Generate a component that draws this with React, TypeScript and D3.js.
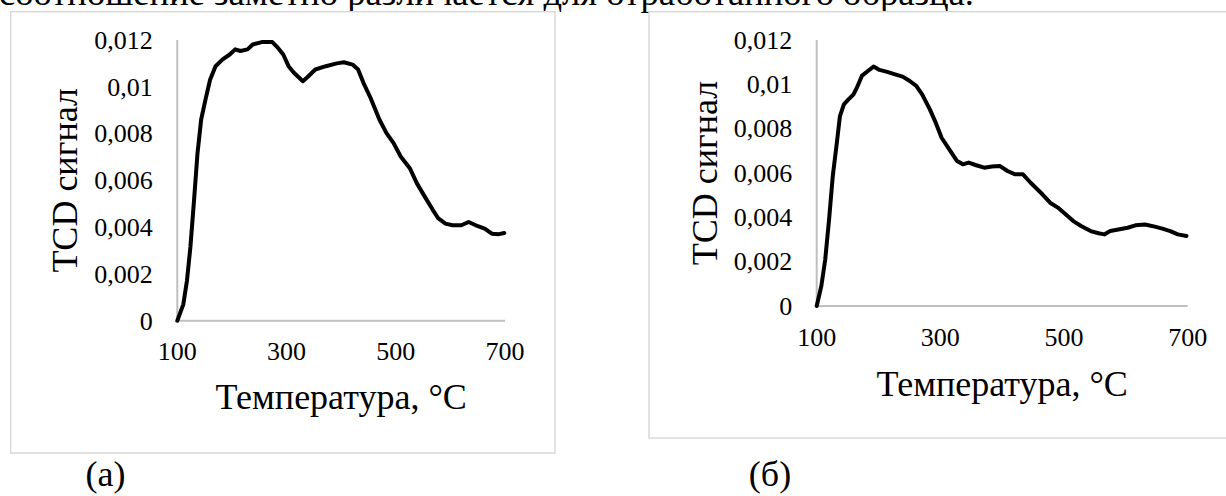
import React from "react";
import * as d3 from "d3";

// ---- Data ----
const tempA = [100, 111, 117.6, 124, 130.7, 137, 143.7, 151.6, 160, 170, 183, 196, 206, 215.6, 228.6, 238, 254.7, 274, 284, 294, 303.7, 313.5, 330, 340, 352.7, 372, 392, 405, 421, 431, 440.8, 453.9, 470, 483, 496, 509, 525.7, 538.7, 555, 568, 578, 591, 604, 620, 633.4, 646.5, 662.8, 675.9, 689, 698.7];
const tcdA = [0, 0.0007, 0.0017, 0.00315, 0.00516, 0.00716, 0.0086, 0.00945, 0.0103, 0.01088, 0.01117, 0.01138, 0.0116, 0.01153, 0.0116, 0.01181, 0.01191, 0.01191, 0.01167, 0.01138, 0.01088, 0.0106, 0.01024, 0.01045, 0.01074, 0.01088, 0.011, 0.01105, 0.01095, 0.01074, 0.01017, 0.00952, 0.0086, 0.00802, 0.00759, 0.00702, 0.00652, 0.00587, 0.00523, 0.00473, 0.00437, 0.00415, 0.00408, 0.00408, 0.00422, 0.00408, 0.00394, 0.00372, 0.0037, 0.00375];

const tempB = [100, 107.5, 113.8, 120, 126, 132.6, 137.6, 144, 151.4, 159.6, 165, 173, 182.8, 192, 201.6, 214, 226.7, 239, 250.5, 261, 270.5, 283, 292.5, 302, 314.4, 327, 336.4, 345.8, 358, 370.9, 383.4, 396, 408.5, 421, 433.6, 446, 465, 477.5, 490, 502.5, 515, 527.6, 543, 555.8, 565, 574.6, 590, 602.9, 615.4, 631, 646.7, 659, 671.8, 684, 698];
const tcdB = [0, 0.0009, 0.0021, 0.0039, 0.00586, 0.00737, 0.00857, 0.0091, 0.00932, 0.00955, 0.00985, 0.01038, 0.0106, 0.0108, 0.01065, 0.01056, 0.01045, 0.01035, 0.01015, 0.00993, 0.00955, 0.00887, 0.00827, 0.00759, 0.00707, 0.00654, 0.00639, 0.00647, 0.00635, 0.00624, 0.00629, 0.00632, 0.00609, 0.00594, 0.00594, 0.00556, 0.00504, 0.00466, 0.00444, 0.00414, 0.00383, 0.00361, 0.00338, 0.00328, 0.00323, 0.00338, 0.00346, 0.00353, 0.00364, 0.00368, 0.00358, 0.00349, 0.00338, 0.00323, 0.00316];

const xTicks = [100, 300, 500, 700];
const xTickLabels = ["100", "300", "500", "700"];
const yTicks = [0, 0.002, 0.004, 0.006, 0.008, 0.01, 0.012];
const yTickLabels = ["0", "0,002", "0,004", "0,006", "0,008", "0,01", "0,012"];

const yTitle = "TCD сигнал";
const xTitle = "Температура, °C";
const captions = ["(а)", "(б)"];
const topText = "соотношение заметно различается для отработанного образца.";

const FONT = "Liberation Serif, Times New Roman, serif";

type PanelProps = {
  temps: number[];
  vals: number[];
  box: { x: number; y: number; w: number; h: number };
  plot: { x0: number; x1: number; y0: number; y1: number };
  yTitleX: number;
  xTitleY: number;
};

function Panel({ temps, vals, box, plot, yTitleX, xTitleY }: PanelProps) {
  const x = d3.scaleLinear().domain([100, 700]).range([plot.x0, plot.x1]);
  const y = d3.scaleLinear().domain([0, 0.012]).range([plot.y0, plot.y1]);
  const pts: [number, number][] = temps.map((t, i) => [t, vals[i]]);
  const line = d3
    .line<[number, number]>()
    .x((d) => x(d[0]))
    .y((d) => y(d[1]));
  const cx = (plot.x0 + plot.x1) / 2;
  const cy = (plot.y0 + plot.y1) / 2;
  return (
    <g>
      <rect x={box.x} y={box.y} width={box.w} height={box.h} fill="#fff" stroke="#d9d9d9" strokeWidth={1.5} />
      <line x1={x(100)} x2={x(700)} y1={y(0)} y2={y(0)} stroke="#bfbfbf" strokeWidth={2} />
      <line x1={x(100)} x2={x(100)} y1={y(0)} y2={y(0.012)} stroke="#bfbfbf" strokeWidth={2} />
      {yTicks.map((t, i) => (
        <text key={"y" + i} x={plot.x0 - 24.5} y={y(t) + 8.8} textAnchor="end" fontSize={26} fontFamily={FONT} fill="#000">
          {yTickLabels[i]}
        </text>
      ))}
      {xTicks.map((t, i) => (
        <text key={"x" + i} x={x(t)} y={y(0) + 39.5} textAnchor="middle" fontSize={26} fontFamily={FONT} fill="#000">
          {xTickLabels[i]}
        </text>
      ))}
      <path d={line(pts) || ""} fill="none" stroke="#000" strokeWidth={4} strokeLinejoin="round" strokeLinecap="round" />
      <text transform={`translate(${yTitleX},${cy}) rotate(-90)`} textAnchor="middle" fontSize={36} fontFamily={FONT} fill="#000">
        {yTitle}
      </text>
      <text x={cx} y={xTitleY} textAnchor="middle" fontSize={36} fontFamily={FONT} fill="#000">
        {xTitle}
      </text>
    </g>
  );
}

export default function App() {
  return (
    <svg width={1226} height={496} style={{ position: "absolute", left: 0, top: 0, background: "#fff" }}>
      <rect x={0} y={0} width={1226} height={496} fill="#fff" />
      <text x={-1} y={5} fontSize={36.6} fontFamily={FONT} fill="#000">
        {topText}
      </text>
      <Panel
        temps={tempA}
        vals={tcdA}
        box={{ x: 10.7, y: 11.7, w: 544.3, h: 441.3 }}
        plot={{ x0: 177.3, x1: 505, y0: 320.7, y1: 40 }}
        yTitleX={76.5}
        xTitleY={409}
      />
      <Panel
        temps={tempB}
        vals={tcdB}
        box={{ x: 649, y: 11.7, w: 640, h: 426.3 }}
        plot={{ x0: 816.7, x1: 1187.7, y0: 306, y1: 40 }}
        yTitleX={717}
        xTitleY={396}
      />
      <text x={105.5} y={486} textAnchor="middle" fontSize={36} fontFamily={FONT} fill="#000">
        {captions[0]}
      </text>
      <text x={770} y={486} textAnchor="middle" fontSize={36} fontFamily={FONT} fill="#000">
        {captions[1]}
      </text>
    </svg>
  );
}
